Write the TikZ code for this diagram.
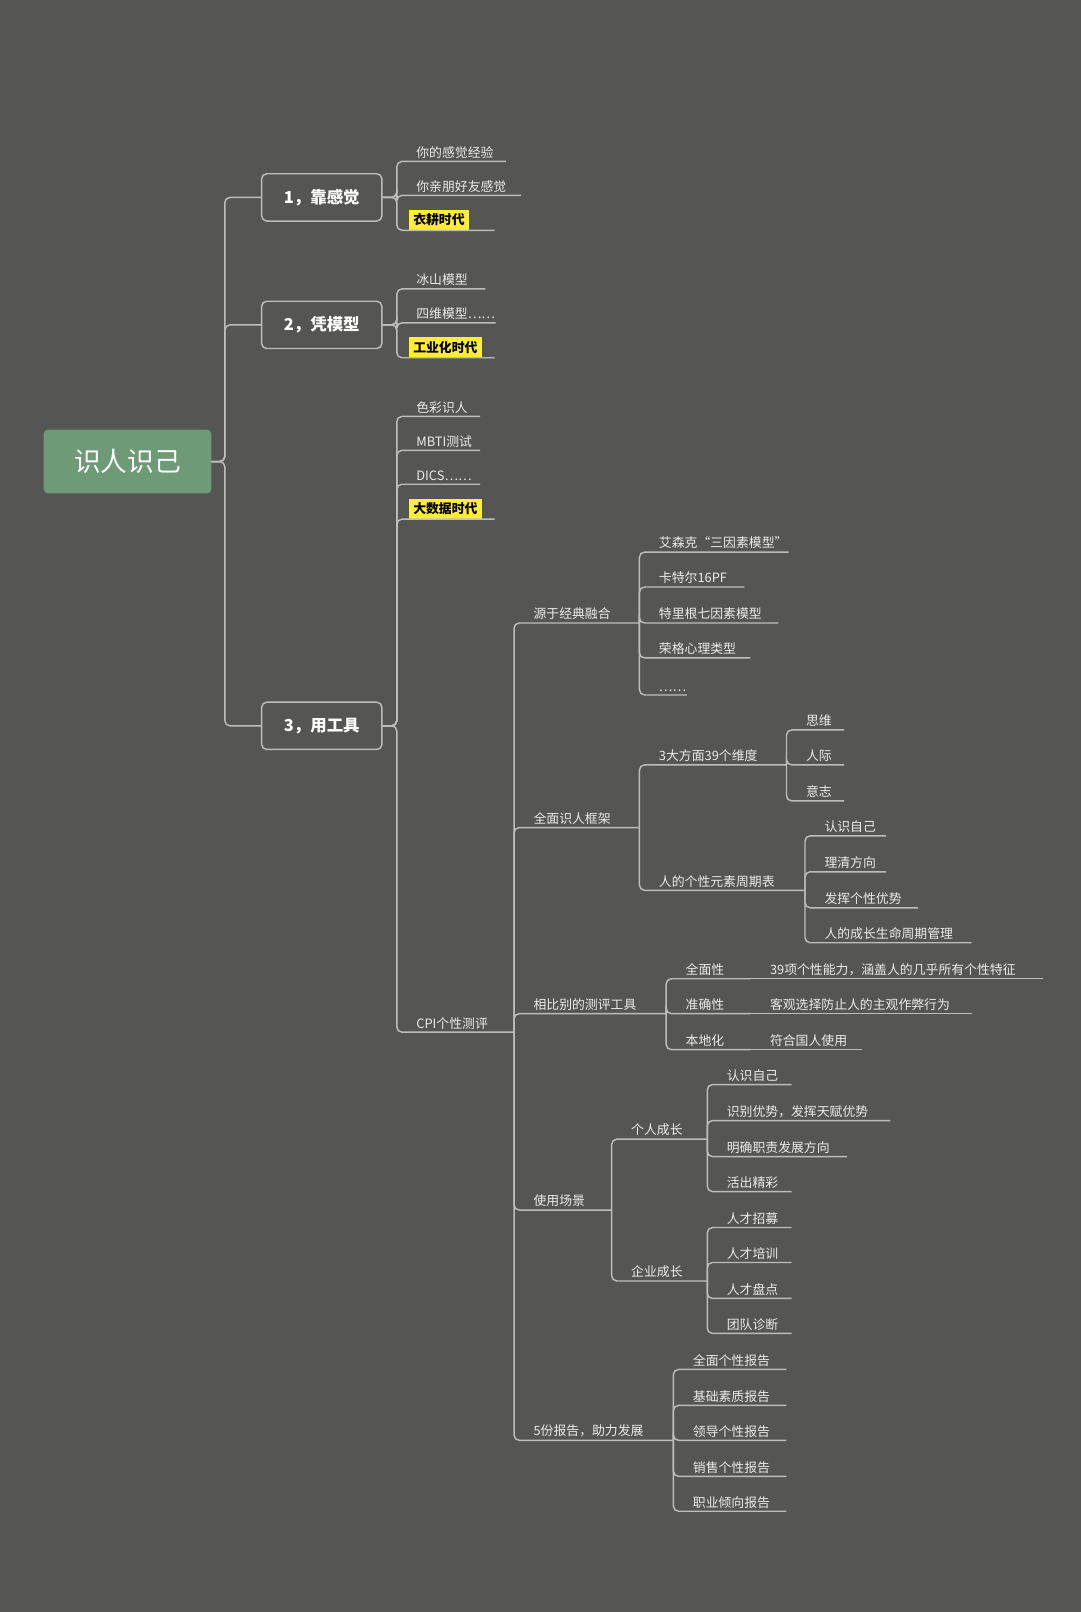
\documentclass[tikz,border=0pt]{standalone}
\usepackage{fontspec}
\setmainfont{Noto Sans CJK SC}
\definecolor{bg}{HTML}{555653}
\definecolor{ln}{HTML}{BDBDBD}
\definecolor{rootg}{HTML}{6E9A78}
\definecolor{hl}{HTML}{FFEE33}
\tikzset{
 conn/.style={draw=ln,line width=1.4pt,rounded corners=5pt},
 leaf/.style={anchor=south west,inner xsep=0pt,inner ysep=3pt,outer sep=0pt,align=left,text=white!92!black,font=\fontsize{12.5}{14}\selectfont},
 box/.style={draw=ln,line width=1.4pt,rounded corners=5pt,fill=bg,text=white,font=\fontsize{16}{18}\selectfont\bfseries,minimum width=117pt,minimum height=46pt},
}
\newcommand\mkleaf[6]{% parent, name, x, y, width, text
 \node[leaf,text width=#5pt] (#2) at (#3,#4) {\hspace*{19pt}#6};
 \draw[conn] (#1.south east) |- (#2.south east);}
\newcommand\mkbkid[6]{%
 \node[leaf,text width=#5pt] (#2) at (#3,#4) {\hspace*{19pt}#6};
 \draw[conn] (#1.east) -| (#2.south west) -- (#2.south east);}
\newcommand\mkhl[5]{%
 \node[leaf,inner ysep=0pt,text width=95pt] (#2) at (#3,#4) {\hspace*{12pt}\setlength\fboxsep{4pt}\colorbox{hl}{\textcolor{black}{\bfseries #5}}};
 \draw[conn] (#1.east) -| (#2.south west) -- (#2.south east);}
\begin{document}
\begin{tikzpicture}[x=1pt,y=-1pt]
\fill[bg] (0,0) rectangle (1051,1568);
\useasboundingbox (0,0) rectangle (1051,1568);
\node[fill=rootg,rounded corners=4pt,minimum width=163pt,minimum height=62pt,text=white,font=\fontsize{26}{28}\selectfont] (root) at (124,449) {识人识己};
\node[box] (b1) at (313,192) {1，靠感觉};
\node[box] (b2) at (313,316) {2，凭模型};
\node[box] (b3) at (313,706) {3，用工具};
\foreach \b in {b1,b2,b3} \draw[conn] (root.east) -- ++(13,0) |- (\b.west);
% box 1
\mkbkid{b1}{a1}{386}{157}{106}{你的感觉经验}
\mkbkid{b1}{a2}{386}{190}{121}{你亲朋好友感觉}
\mkhl{b1}{a3}{386}{224}{衣耕时代}
% box 2
\mkbkid{b2}{c1}{386}{281}{86}{冰山模型}
\mkbkid{b2}{c2}{386}{314}{96}{四维模型……}
\mkhl{b2}{c3}{386}{348}{工业化时代}
% box 3
\mkbkid{b3}{d1}{386}{405}{81}{色彩识人}
\mkbkid{b3}{d2}{386}{438}{81}{MBTI测试}
\mkbkid{b3}{d3}{386}{471}{81}{DICS……}
\mkhl{b3}{d4}{386}{505}{大数据时代}
\mkbkid{b3}{cpi}{386}{1004}{114}{CPI个性测评}
% CPI
\mkleaf{cpi}{e1}{500}{606}{122}{源于经典融合}
\mkleaf{cpi}{e2}{500}{805}{122}{全面识人框架}
\mkleaf{cpi}{e3}{500}{986}{148}{相比别的测评工具}
\mkleaf{cpi}{e4}{500}{1177}{95}{使用场景}
\mkleaf{cpi}{e5}{500}{1401}{155}{5份报告，助力发展}
% e1
\mkleaf{e1}{f1}{622}{537}{145}{艾森克“三因素模型”}
\mkleaf{e1}{f2}{622}{571}{102}{卡特尔16PF}
\mkleaf{e1}{f3}{622}{606}{135}{特里根七因素模型}
\mkleaf{e1}{f4}{622}{640}{108}{荣格心理类型}
\mkleaf{e1}{f5}{622}{676}{46}{……}
% e2
\mkleaf{e2}{g1}{622}{744}{143}{3大方面39个维度}
\mkleaf{e2}{g2}{622}{866}{161}{人的个性元素周期表}
\mkleaf{g1}{h1}{765}{710}{56}{思维}
\mkleaf{g1}{h2}{765}{744}{56}{人际}
\mkleaf{g1}{h3}{765}{779}{56}{意志}
\mkleaf{g2}{i1}{783}{813}{79}{认识自己}
\mkleaf{g2}{i2}{783}{848}{79}{理清方向}
\mkleaf{g2}{i3}{783}{883}{110}{发挥个性优势}
\mkleaf{g2}{i4}{783}{917}{162}{人的成长生命周期管理}
% e3
\mkleaf{e3}{j1}{648}{952}{82}{全面性}
\mkleaf{e3}{j2}{648}{986}{82}{准确性}
\mkleaf{e3}{j3}{648}{1021}{82}{本地化}
\node[leaf,text width=285pt] (k1) at (730,952) {\hspace*{19pt}39项个性能力，涵盖人的几乎所有个性特征};
\node[leaf,text width=215pt] (k2) at (730,986) {\hspace*{19pt}客观选择防止人的主观作弊行为};
\node[leaf,text width=108pt] (k3) at (730,1021) {\hspace*{19pt}符合国人使用};
\draw[conn] (j1.south east) -- (k1.south east);
\draw[conn] (j2.south east) -- (k2.south east);
\draw[conn] (j3.south east) -- (k3.south east);
% e4
\mkleaf{e4}{l1}{595}{1108}{93}{个人成长}
\mkleaf{e4}{l2}{595}{1246}{93}{企业成长}
\mkleaf{l1}{m1}{688}{1055}{82}{认识自己}
\mkleaf{l1}{m2}{688}{1090}{178}{识别优势，发挥天赋优势}
\mkleaf{l1}{m3}{688}{1125}{136}{明确职责发展方向}
\mkleaf{l1}{m4}{688}{1159}{82}{活出精彩}
\mkleaf{l2}{n1}{688}{1194}{82}{人才招募}
\mkleaf{l2}{n2}{688}{1228}{82}{人才培训}
\mkleaf{l2}{n3}{688}{1263}{82}{人才盘点}
\mkleaf{l2}{n4}{688}{1297}{82}{团队诊断}
% e5
\mkleaf{e5}{o1}{655}{1332}{110}{全面个性报告}
\mkleaf{e5}{o2}{655}{1367}{110}{基础素质报告}
\mkleaf{e5}{o3}{655}{1401}{110}{领导个性报告}
\mkleaf{e5}{o4}{655}{1436}{110}{销售个性报告}
\mkleaf{e5}{o5}{655}{1470}{110}{职业倾向报告}
\end{tikzpicture}
\end{document}
